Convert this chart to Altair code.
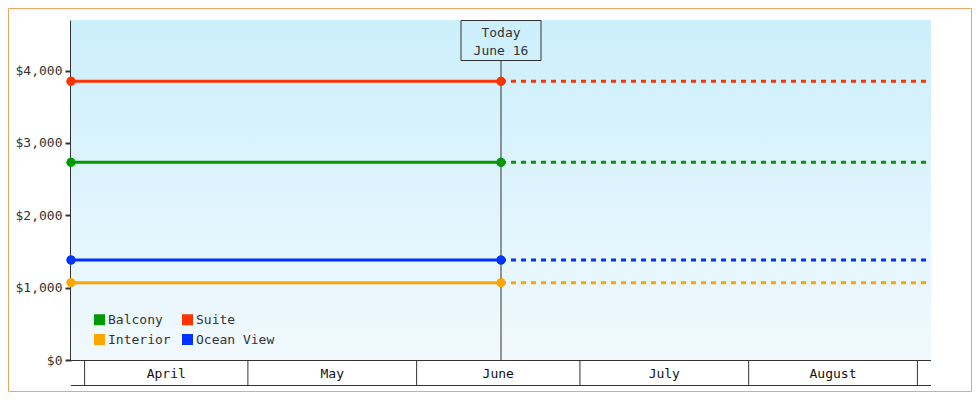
import altair as alt
import pandas as pd

# ---- data ----
CATEGORIES = ["Balcony", "Suite", "Interior", "Ocean View"]
PRICES = [2733, 3853, 1069, 1382]
COLORS = ["#009900", "#ff3300", "#ffa500", "#0033ff"]

START = "2024-03-29T12:00:00Z"
TODAY = "2024-06-16T12:00:00Z"
END = "2024-09-03T12:00:00Z"
TODAY_LABELS = ["Today", "June 16"]

MONTH_STARTS = ["2024-04-01T00:00:00Z", "2024-05-01T00:00:00Z", "2024-06-01T00:00:00Z",
                "2024-07-01T00:00:00Z", "2024-08-01T00:00:00Z", "2024-09-01T00:00:00Z"]
MONTH_NAMES = ["April", "May", "June", "July", "August"]

Y_TICKS = [0, 1000, 2000, 3000, 4000]
Y_MAX = 4700

FONT = "DejaVu Sans Mono"
DARK = "#333333"
W, H = 860, 340

# ---- tables ----
hist = pd.DataFrame(
    [{"date": d, "price": p, "cabin": c} for c, p in zip(CATEGORIES, PRICES) for d in (START, TODAY)]
)
fcst = pd.DataFrame(
    [{"date": d, "price": p, "cabin": c} for c, p in zip(CATEGORIES, PRICES) for d in (TODAY, END)]
)
ms = pd.to_datetime(pd.Series(MONTH_STARTS), utc=True)
lo = ms[:-1].reset_index(drop=True)
hi = ms[1:].reset_index(drop=True)
mids = lo + (hi - lo) / 2
months = pd.DataFrame({"mid": mids.dt.strftime("%Y-%m-%dT%H:%M:%SZ"), "name": MONTH_NAMES})
month_starts = pd.DataFrame({"d": MONTH_STARTS})
span = pd.DataFrame({"x": [START], "x2": [END]})
today_df = pd.DataFrame({"d": [TODAY], "l1": [TODAY_LABELS[0]], "l2": [TODAY_LABELS[1]]})

XS = alt.Scale(type="utc",
               domain=[alt.DateTime(year=2024, month=3, date=29, hours=12, utc=True),
                       alt.DateTime(year=2024, month=9, date=3, hours=12, utc=True)])
YS = alt.Scale(domain=[0, Y_MAX], nice=False)

color = alt.Color(
    "cabin:N",
    scale=alt.Scale(domain=CATEGORIES, range=COLORS),
    legend=alt.Legend(
        orient="none", legendX=22, legendY=293, columns=2, direction="horizontal", title=None,
        symbolType="square", symbolSize=121, symbolStrokeWidth=0, symbolOpacity=1,
        labelFont=FONT, labelFontSize=13, labelColor=DARK, labelOffset=2,
        columnPadding=10, rowPadding=6, padding=0,
    ),
)

gradient = alt.LinearGradient(
    gradient="linear",
    stops=[alt.GradientStop(color="#cceffc", offset=0),
           alt.GradientStop(color="#f1f9fe", offset=1)],
    x1=0, x2=0, y1=0, y2=1,
)

bg = alt.Chart(span).mark_rect(color=gradient).encode(
    x=alt.X("x:T", scale=XS, axis=None), x2="x2:T",
    y=alt.value(0), y2=alt.value(H),
)

frame_top = alt.Chart(span).mark_rule(color=DARK, strokeWidth=1).encode(
    x=alt.X("x:T", scale=XS, axis=None), x2="x2:T", y=alt.value(H + 0.5))
frame_bot = alt.Chart(span).mark_rule(color=DARK, strokeWidth=1).encode(
    x=alt.X("x:T", scale=XS, axis=None), x2="x2:T", y=alt.value(H + 25.5))
dividers = alt.Chart(month_starts).mark_rule(color=DARK, strokeWidth=1, clip=False).encode(
    x=alt.X("d:T", scale=XS, axis=None), y=alt.value(H), y2=alt.value(H + 25))
month_text = alt.Chart(months).mark_text(
    font=FONT, fontSize=13, color="#111111", baseline="middle", align="center").encode(
    x=alt.X("mid:T", scale=XS, axis=None), y=alt.value(H + 13.5), text="name:N")

today_rule = alt.Chart(today_df).mark_rule(color=DARK, strokeWidth=1).encode(
    x=alt.X("d:T", scale=XS, axis=None), y=alt.value(40), y2=alt.value(H))
today_box = alt.Chart(today_df).mark_rect(
    filled=False, stroke=DARK, strokeWidth=1, xOffset=-40, x2Offset=40).encode(
    x=alt.X("d:T", scale=XS, axis=None), x2="d:T", y=alt.value(0.5), y2=alt.value(40.5))
today_t1 = alt.Chart(today_df).mark_text(
    font=FONT, fontSize=13, color=DARK, baseline="middle", align="center").encode(
    x=alt.X("d:T", scale=XS, axis=None), y=alt.value(12.5), text="l1:N")
today_t2 = alt.Chart(today_df).mark_text(
    font=FONT, fontSize=13, color=DARK, baseline="middle", align="center").encode(
    x=alt.X("d:T", scale=XS, axis=None), y=alt.value(30.5), text="l2:N")

yaxis = alt.Axis(values=Y_TICKS, format="$,.0f", title=None, grid=False,
                 domainColor=DARK, domainWidth=3, tickColor=DARK, tickWidth=2,
                 tickSize=6, labelFont=FONT, labelFontSize=13, labelColor=DARK,
                 labelPadding=3)

pts_under = alt.Chart(hist).mark_point(filled=True, size=80, opacity=1, shape="circle").encode(
    x=alt.X("date:T", scale=XS, axis=None),
    y=alt.Y("price:Q", scale=YS, axis=yaxis),
    color=color,
)
solid = alt.Chart(hist).mark_line(strokeWidth=3).encode(
    x=alt.X("date:T", scale=XS, axis=None),
    y=alt.Y("price:Q", scale=YS, axis=yaxis),
    color=color, detail="cabin:N",
)
dashed = alt.Chart(fcst).mark_line(strokeWidth=3, strokeDash=[5, 5], strokeCap="butt").encode(
    x=alt.X("date:T", scale=XS, axis=None),
    y=alt.Y("price:Q", scale=YS, axis=yaxis),
    color=color, detail="cabin:N",
)
pts = alt.Chart(hist).mark_point(filled=True, size=80, opacity=1, shape="circle").encode(
    x=alt.X("date:T", scale=XS, axis=None),
    y=alt.Y("price:Q", scale=YS, axis=yaxis),
    color=color,
)

border = alt.Chart(span).mark_rect(filled=False, stroke="#eaa865", strokeWidth=1, clip=False).encode(
    x=alt.value(-62.5), x2=alt.value(W + 40.5), y=alt.value(-11.5), y2=alt.value(H + 31.5))

chart = alt.layer(
    bg, pts_under, frame_top, frame_bot, dividers, month_text,
    today_rule, today_box, today_t1, today_t2,
    solid, dashed, pts, border,
).properties(
    width=W, height=H,
    padding={"left": 63, "top": 12, "right": 41, "bottom": 32},
    autosize=alt.AutoSizeParams(type="none"),
    background="white",
).configure_view(stroke=None)

chart.save("out.html", embed_options={"renderer": "svg", "actions": False})
